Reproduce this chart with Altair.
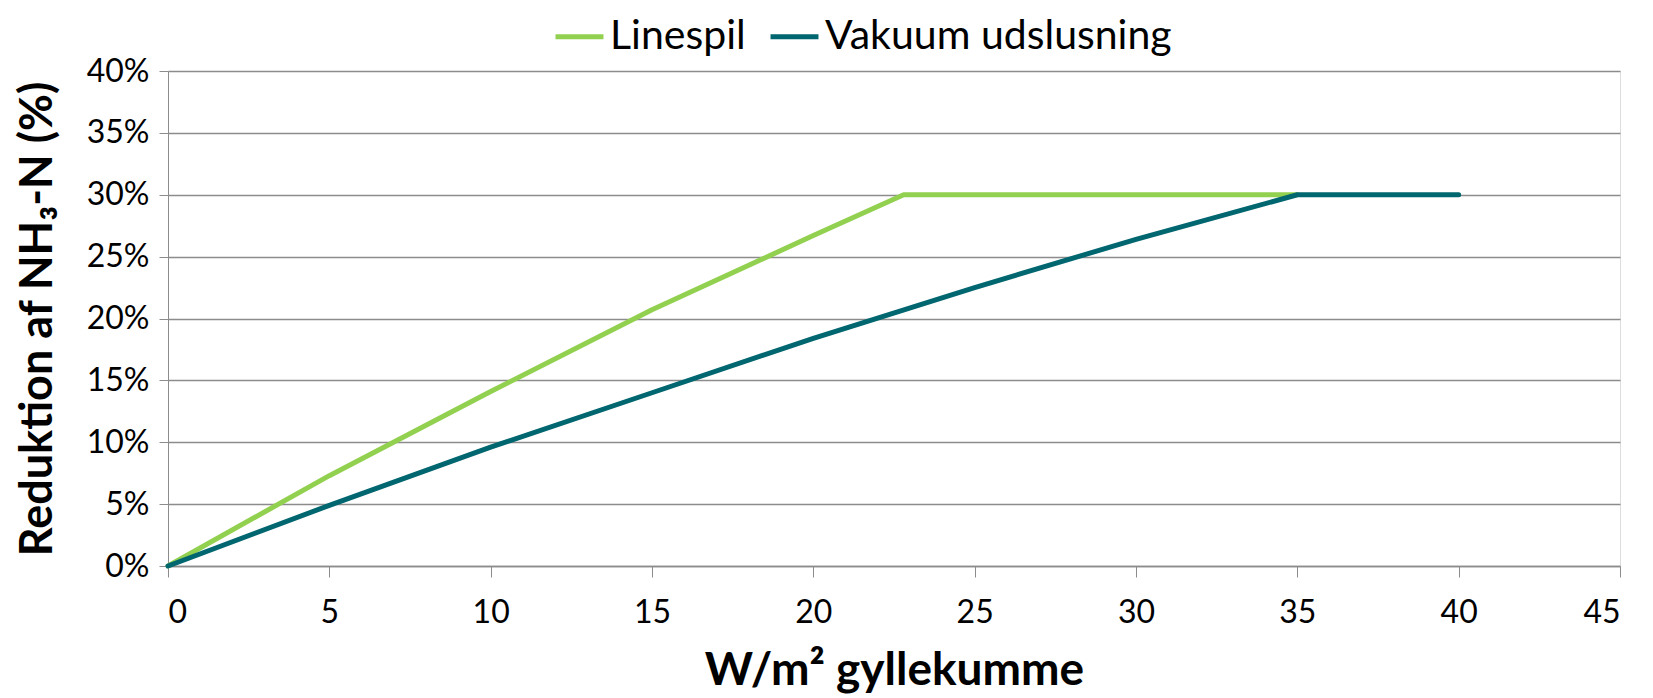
import altair as alt
import pandas as pd

series_names = ["Linespil", "Vakuum udslusning"]
colors = ["#92D050", "#00666F"]

x_linespil = [0, 5, 10, 15, 20, 22.8, 25, 30, 35]
y_linespil = [0, 0.073, 0.141, 0.207, 0.267, 0.30, 0.30, 0.30, 0.30]

x_vakuum = [0, 5, 10, 15, 20, 25, 30, 35, 40]
y_vakuum = [0, 0.049, 0.096, 0.140, 0.184, 0.225, 0.264, 0.30, 0.30]

x_ticks = [0, 5, 10, 15, 20, 25, 30, 35, 40, 45]
y_ticks = [0, 0.05, 0.10, 0.15, 0.20, 0.25, 0.30, 0.35, 0.40]

rows = []
for i, (x, y) in enumerate(zip(x_linespil, y_linespil)):
    rows.append({"serie": series_names[0], "x": x, "y": y, "o": i})
for i, (x, y) in enumerate(zip(x_vakuum, y_vakuum)):
    rows.append({"serie": series_names[1], "x": x, "y": y, "o": i})
df = pd.DataFrame(rows)

FONT = "Lato"

chart = alt.Chart(df).mark_line(strokeWidth=5, strokeCap="round", strokeJoin="round").encode(
    x=alt.X("x:Q",
            scale=alt.Scale(domain=[0, 45], nice=False, zero=True),
            axis=alt.Axis(values=x_ticks, title="W/m² gyllekumme", grid=False,
                          tickSize=11, tickColor="#8C8C8C", domainColor="#8C8C8C",
                          domainWidth=1.5, labelPadding=20, labelFontSize=32,
                          labelFont=FONT, labelColor="#000000",
                          titleFont=FONT, titleFontSize=46, titleFontWeight="bold",
                          titleColor="#000000", titlePadding=20)),
    y=alt.Y("y:Q",
            scale=alt.Scale(domain=[0, 0.4], nice=False),
            axis=alt.Axis(values=y_ticks, format=".0%", title="Reduktion af NH₃-N (%)",
                          grid=True, gridColor="#8C8C8C", gridWidth=1.5,
                          tickSize=9, tickColor="#8C8C8C", domainColor="#8C8C8C",
                          labelPadding=10, labelFontSize=32, labelFont=FONT,
                          labelColor="#000000",
                          titleFont=FONT, titleFontSize=45, titleFontWeight="bold",
                          titleColor="#000000", titlePadding=26)),
    color=alt.Color("serie:N",
                    scale=alt.Scale(domain=series_names, range=colors),
                    legend=alt.Legend(title=None, orient="none", direction="horizontal",
                                      legendX=385, legendY=-61,
                                      symbolType="stroke", symbolStrokeWidth=5,
                                      symbolSize=2300, labelFontSize=41,
                                      labelFont=FONT, labelColor="#000000",
                                      labelLimit=0,
                                      columnPadding=14, labelOffset=4)),
    order="o:Q",
).properties(
    width=1452, height=495,
    autosize=alt.AutoSizeParams(type="none"),
    padding={"left": 160, "top": 63, "right": 20, "bottom": 128},
).configure_view(stroke=None).configure(background="white")

chart.save("out.html", embed_options={"renderer": "svg", "actions": False})
